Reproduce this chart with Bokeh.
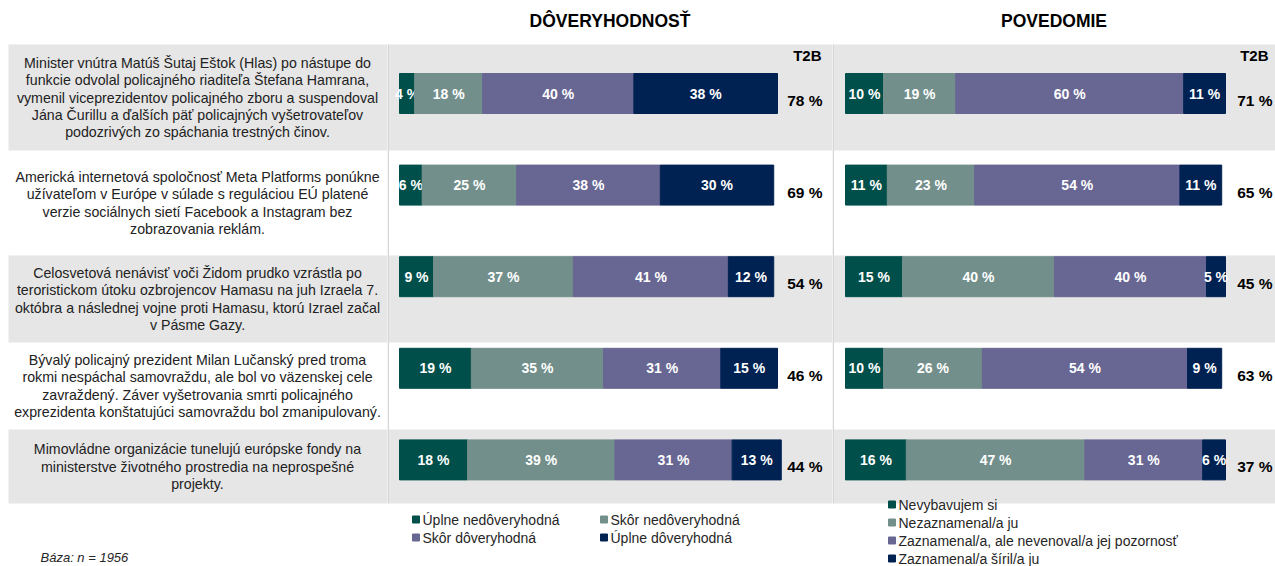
from bokeh.plotting import figure
from bokeh.layouts import row
from bokeh.models import Range1d
from bokeh.core.properties import value
from bokeh.embed import file_html
from bokeh.resources import INLINE

# ---------------- data ----------------
statements = [
    ["Minister vnútra Matúš Šutaj Eštok (Hlas) po nástupe do",
     "funkcie odvolal policajného riaditeľa Štefana Hamrana,",
     "vymenil viceprezidentov policajného zboru a suspendoval",
     "Jána Čurillu a ďalších päť policajných vyšetrovateľov",
     "podozrivých zo spáchania trestných činov."],
    ["Americká internetová spoločnosť Meta Platforms ponúkne",
     "užívateľom v Európe v súlade s reguláciou EÚ platené",
     "verzie sociálnych sietí Facebook a Instagram bez",
     "zobrazovania reklám."],
    ["Celosvetová nenávisť voči Židom prudko vzrástla po",
     "teroristickom útoku ozbrojencov Hamasu na juh Izraela 7.",
     "októbra a následnej vojne proti Hamasu, ktorú Izrael začal",
     "v Pásme Gazy."],
    ["Bývalý policajný prezident Milan Lučanský pred troma",
     "rokmi nespáchal samovraždu, ale bol vo väzenskej cele",
     "zavraždený. Záver vyšetrovania smrti policajného",
     "exprezidenta konštatujúci samovraždu bol zmanipulovaný."],
    ["Mimovládne organizácie tunelujú európske fondy na",
     "ministerstve životného prostredia na neprospešné",
     "projekty."],
]

trust_labels = ["Úplne nedôveryhodná", "Skôr nedôveryhodná", "Skôr dôveryhodná", "Úplne dôveryhodná"]
trust_1 = [4, 6, 9, 19, 18]     # Úplne nedôveryhodná
trust_2 = [18, 25, 37, 35, 39]  # Skôr nedôveryhodná
trust_3 = [40, 38, 41, 31, 31]  # Skôr dôveryhodná
trust_4 = [38, 30, 12, 15, 13]  # Úplne dôveryhodná
trust_t2b = [78, 69, 54, 46, 44]

aware_labels = ["Nevybavujem si", "Nezaznamenal/a ju",
                "Zaznamenal/a, ale nevenoval/a jej pozornosť", "Zaznamenal/a  šíril/a ju"]
aware_1 = [10, 11, 15, 10, 16]
aware_2 = [19, 23, 40, 26, 47]
aware_3 = [60, 54, 40, 54, 31]
aware_4 = [11, 11, 5, 9, 6]
aware_t2b = [71, 65, 45, 63, 37]

titles = ["DÔVERYHODNOSŤ", "POVEDOMIE"]
t2b_header = "T2B"
base_note = "Báza: n = 1956"

# ---------------- styling / layout ----------------
COLORS = ["#004F4A", "#738F8C", "#686693", "#002252"]
BG = "#e6e6e6"
DIV = "#d6d6d6"
FONT = value("Liberation Sans")
H = 566
row_edges = [44, 150, 255, 342, 429, 503]   # px from top of figure
bar_c0, bar_step, bar_h = 93, 91.6, 40


def bar_y(i):
    return bar_c0 + i * bar_step


def make_fig(width, xr):
    p = figure(width=width, height=H, x_range=xr, y_range=Range1d(H, 0),
               output_backend="svg", toolbar_location=None, min_border=0)
    p.axis.visible = False
    p.grid.visible = False
    p.outline_line_color = None
    p.background_fill_color = "white"
    p.border_fill_color = "white"
    return p


def backgrounds(p, x0, x1):
    for i in range(5):
        if i % 2 == 0:
            p.quad(left=x0, right=x1, top=row_edges[i], bottom=row_edges[i + 1],
                   fill_color=BG, line_color=None)


# ---- text column ----
W0 = 387
pt = make_fig(W0, Range1d(0, W0))
backgrounds(pt, 8, W0)
for i, lines in enumerate(statements):
    c = (row_edges[i] + row_edges[i + 1]) / 2
    n = len(lines)
    lh = 17.2
    ys = [c + (k - (n - 1) / 2) * lh for k in range(n)]
    pt.text(x=[197] * n, y=ys, text=lines, text_font=FONT, text_font_size="14.2px",
            text_color="#222222", text_align="center", text_baseline="middle")
pt.text(x=[40], y=[557], text=[base_note], text_font=FONT, text_font_size="13px",
        text_font_style="italic", text_color="#262626", text_align="left",
        text_baseline="middle")


def panel(width, bar_l, bar_r, series, t2b, labels, title, t2b_right, hdr_right, legend_mode):
    scale = (bar_r - bar_l) / 100.0
    xr = Range1d(-bar_l / scale, (width - bar_l) / scale)

    def px(v):
        return (v - bar_l) / scale

    p = make_fig(width, xr)
    backgrounds(p, xr.start, xr.end)
    # divider on the left edge
    p.segment(x0=[px(0.75)], x1=[px(0.75)], y0=[row_edges[0]], y1=[row_edges[-1]],
              line_color=DIV, line_width=1.5)
    ys = [bar_y(i) for i in range(5)]
    left = [0] * 5
    for s, col in zip(series, COLORS):
        right = [l + v for l, v in zip(left, s)]
        p.hbar(y=ys, left=left, right=right, height=bar_h, fill_color=col,
               line_color=col)
        mids = [(l + r) / 2 for l, r in zip(left, right)]
        p.text(x=mids, y=ys, text=[f"{v} %" for v in s], text_font=FONT,
               text_font_size="14px", text_font_style="bold", text_color="white",
               text_align="center", text_baseline="middle")
        left = right
    p.text(x=[px(t2b_right)] * 5, y=[y + 7 for y in ys], text=[f"{v} %" for v in t2b],
           text_font=FONT, text_font_size="15.5px", text_font_style="bold",
           text_color="black", text_align="right", text_baseline="middle")
    p.text(x=[px(hdr_right)], y=[55], text=[t2b_header], text_font=FONT,
           text_font_size="15px", text_font_style="bold", text_color="black",
           text_align="right", text_baseline="middle")
    p.text(x=[px(width / 2)], y=[20], text=[title], text_font=FONT,
           text_font_size="17.5px", text_font_style="bold", text_color="black",
           text_align="center", text_baseline="middle")
    # legend
    if legend_mode == "grid":
        pos = [(25, 519), (213, 519), (25, 537), (213, 537)]
    else:
        pos = [(56, 504), (56, 522), (56, 540), (56, 558)]
    for (lx, ly), lab, col in zip(pos, labels, COLORS):
        p.scatter(x=[px(lx + 3.5)], y=[ly], marker="square", size=7,
                  fill_color=col, line_color=col)
        p.text(x=[px(lx + 10)], y=[ly], text=[lab], text_font=FONT,
               text_font_size="14px", text_color="#262626", text_align="left",
               text_baseline="middle")
    return p


pl = panel(445, 12, 390, [trust_1, trust_2, trust_3, trust_4], trust_t2b,
           trust_labels, titles[0], 435, 434, "grid")
pr = panel(443, 13, 393, [aware_1, aware_2, aware_3, aware_4], aware_t2b,
           aware_labels, titles[1], 440, 436, "col")

layout = row(pt, pl, pr)
open("out.html", "w").write(file_html(layout, INLINE))
